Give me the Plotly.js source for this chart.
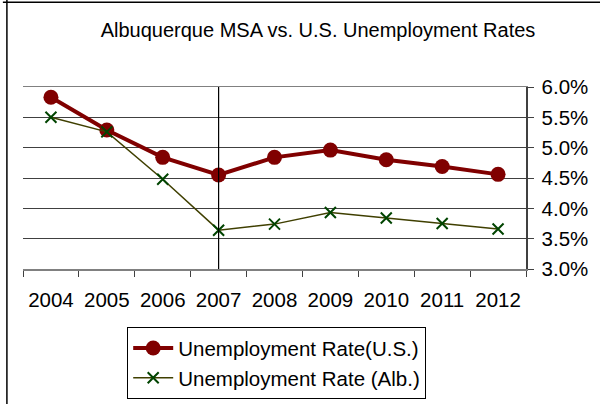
<!DOCTYPE html>
<html>
<head>
<meta charset="utf-8">
<script src="https://cdn.plot.ly/plotly-3.0.1.min.js"></script>
<style>html,body{margin:0;padding:0;background:#fff;}#chart{width:600px;height:404px;}</style>
</head>
<body>
<div id="chart"></div>
<script>
const years = ['2004','2005','2006','2007','2008','2009','2010','2011','2012'];
const usRate = [5.83, 5.29, 4.84, 4.55, 4.84, 4.96, 4.80, 4.69, 4.56];
const albRate = [5.50, 5.26, 4.48, 3.64, 3.74, 3.93, 3.84, 3.75, 3.66];
const yTicks = [3.0, 3.5, 4.0, 4.5, 5.0, 5.5, 6.0];
const markerYear = '2007';

const font = 'Arial, "Liberation Sans", sans-serif';

const traces = [
  {
    x: years, y: usRate, name: 'Unemployment Rate(U.S.)', type: 'scatter', mode: 'lines+markers',
    line: {color: '#800000', width: 4},
    marker: {symbol: 'circle', size: 15, color: '#800000'}
  },
  {
    x: years, y: albRate, name: 'Unemployment Rate (Alb.)', type: 'scatter', mode: 'lines+markers',
    line: {color: '#3f3f00', width: 1.5},
    marker: {symbol: 'x-thin', size: 11, color: '#004400', line: {color: '#004400', width: 2}}
  }
];

const layout = {
  width: 600, height: 404,
  margin: {l: 23, r: 74, t: 87, b: 135, autoexpand: false},
  paper_bgcolor: '#fff', plot_bgcolor: '#fff',
  font: {family: font, size: 20.5, color: '#000'},
  title: {text: 'Albuquerque MSA vs. U.S. Unemployment Rates', font: {family: font, size: 20, color: '#000'}, x: 0.53, xanchor: 'center', y: 0.925, yanchor: 'middle'},
  showlegend: true,
  legend: {
    xref: 'container', yref: 'container',
    x: 0.212, xanchor: 'left', y: 0.19, yanchor: 'top',
    bordercolor: '#000', borderwidth: 1, bgcolor: '#fff',
    font: {family: font, size: 20.5, color: '#000'},
    tracegroupgap: 0, itemwidth: 40
  },
  xaxis: {
    type: 'category', categoryorder: 'array', categoryarray: years,
    range: [-0.5, years.length - 0.5],
    showgrid: false, zeroline: false,
    showline: true, linecolor: '#808080', linewidth: 1.5, mirror: true,
    ticks: 'outside', tickson: 'boundaries', ticklen: 6, tickcolor: '#404040', tickwidth: 1,
    ticklabelstandoff: 12,
    tickfont: {family: font, size: 20.5, color: '#000'},
    fixedrange: true
  },
  yaxis: {
    side: 'right', range: [3.0, 6.0], tickvals: yTicks,
    ticktext: yTicks.map(v => v.toFixed(1) + '%'),
    showgrid: true, gridcolor: '#404040', gridwidth: 1, zeroline: false,
    showline: true, linecolor: '#404040', linewidth: 1.5, mirror: false,
    ticks: 'outside', ticklen: 6, tickcolor: '#404040',
    ticklabelstandoff: 4,
    tickfont: {family: font, size: 20.5, color: '#000'},
    fixedrange: true
  },
  shapes: [
    {type: 'line', xref: 'x', yref: 'paper', x0: years.indexOf(markerYear), x1: years.indexOf(markerYear), y0: 0, y1: 1, line: {color: '#000', width: 1.2}},
    {type: 'line', xref: 'paper', yref: 'paper', x0: -0.032, x1: -0.032, y0: -1, y1: 1.5, line: {color: '#000', width: 1.5}},
    {type: 'line', xref: 'paper', yref: 'paper', x0: -0.04, x1: 1.2, y0: 1.466, y1: 1.466, line: {color: '#000', width: 1.5}}
  ]
};

Plotly.newPlot('chart', traces, layout, {displayModeBar: false, staticPlot: true});
</script>
</body>
</html>
